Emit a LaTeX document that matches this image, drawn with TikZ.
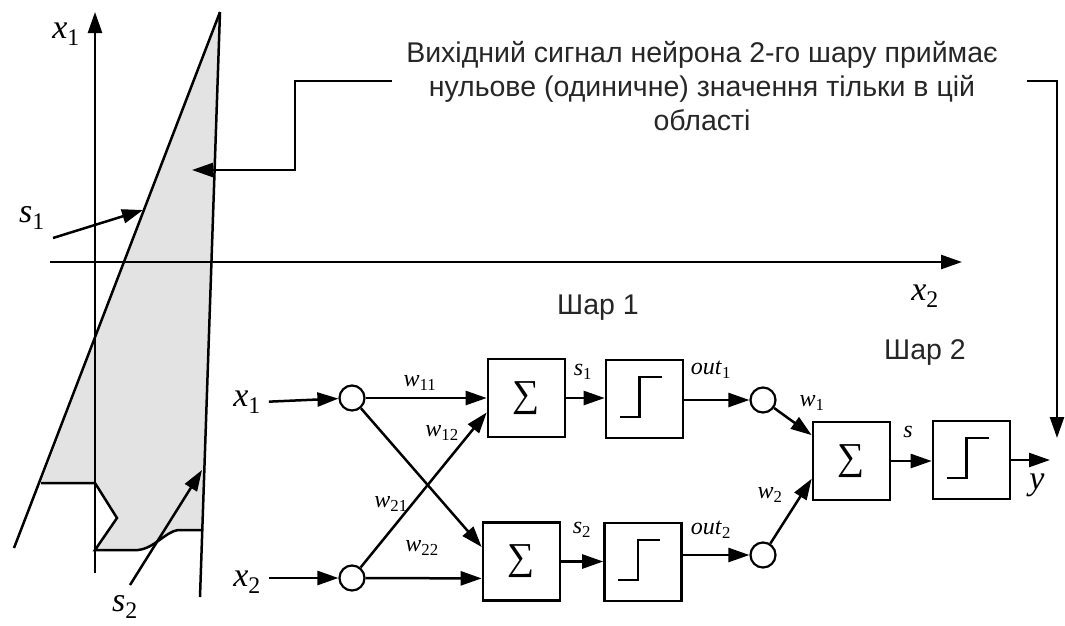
\documentclass[tikz,border=0pt]{standalone}
\usepackage{fontspec}
\setmainfont{Liberation Serif}
\newfontfamily\sansuk{Liberation Sans}
\usetikzlibrary{arrows.meta}
\newcommand\vr[2]{\textit{#1}\textsubscript{#2}}
\begin{document}
\begin{tikzpicture}[x=1pt,y=-1pt,
  ln/.style={line width=2.5pt},
  arr/.style={ln,-{Triangle[length=21pt,width=14pt]}},
  blk/.style={draw,line width=2.6pt,minimum width=77pt,minimum height=78pt,inner sep=0pt},
  nd/.style={draw,circle,line width=2.2pt,minimum size=25pt,inner sep=0pt},
  big/.style={font=\fontsize{34}{34}\selectfont,inner sep=0pt},
  sml/.style={font=\fontsize{24}{24}\selectfont,inner sep=0pt},
  uk/.style={font=\sansuk\fontsize{28.5}{34}\selectfont,align=center,inner sep=0pt,text=black!85},
  sumtxt/.style={font=\fontsize{38}{38}\selectfont}
]
\useasboundingbox (0,0) rectangle (1065,625);
% shaded region
\fill[black!11] (220,12) -- (41,483) -- (95,483) -- (117,518) -- (95,550) -- (138,550)
  .. controls (155,548) and (165,532) .. (178,530) -- (202,530) -- cycle;
\draw[ln] (41,483) -- (95,483) -- (117,518) -- (95,550) -- (138,550)
  .. controls (155,548) and (165,532) .. (178,530) -- (202,530);
\coordinate (top) at (220,12);
\coordinate (slb) at (14,548);
\coordinate (rlb) at (200,597);
\draw[ln] (top) -- (slb);
\draw[ln] (top) -- (rlb);
% axes
\coordinate (ax1b) at (95,573);
\coordinate (ax1t) at (95,12);
\coordinate (ax2l) at (50,262);
\coordinate (ax2r) at (962,262);
\draw[arr] (ax1b) -- (ax1t);
\draw[arr] (ax2l) -- (ax2r);
\node[big] (lax1) at (66,34) {\vr{x}{1}};
\node[big] (lax2) at (925,296) {\vr{x}{2}};
% s1, s2 pointers
\node[big] (ls1) at (32,218) {\vr{s}{1}};
\node[big] (ls2) at (125,607) {\vr{s}{2}};
\coordinate (s1a) at (53,238);
\coordinate (s1b) at (143,210);
\coordinate (s2a) at (130,585);
\coordinate (s2b) at (202,470);
\draw[arr] (s1a) -- (s1b);
\draw[arr] (s2a) -- (s2b);
% caption and callouts
\node[uk] (txt) at (702,86) {Вихідний сигнал нейрона 2-го шару приймає\\нульове (одиничне) значення тільки в цій\\області};
\coordinate (l1) at (392,81);
\coordinate (l2) at (295,81);
\coordinate (l3) at (295,170);
\coordinate (l4) at (192,170);
\draw[arr] (l1) -- (l2) -- (l3) -- (l4);
\coordinate (r1) at (1027,81);
\coordinate (r2) at (1057,81);
\coordinate (r3) at (1057,438);
\draw[arr] (r1) -- (r2) -- (r3);
\node[uk] (sh1) at (598,308) {Шар 1};
\node[uk] (sh2) at (925,352) {Шар 2};
% network
\node[big] (lx1) at (247,402) {\vr{x}{1}};
\node[big] (lx2) at (247,582) {\vr{x}{2}};
\node[nd] (c1) at (352,398) {};
\node[nd] (c2) at (352,578) {};
\node[blk,sumtxt] (S1) at (526.5,398) {∑};
\node[blk,sumtxt] (S2) at (521.5,561.5) {∑};
\node[blk] (F1) at (644.5,399) {};
\node[blk] (F2) at (643,562) {};
\node[nd] (c3) at (763,400) {};
\node[nd] (c4) at (763,555) {};
\node[blk,sumtxt] (S3) at (851.5,461) {∑};
\node[blk] (F3) at (971.5,460) {};
\foreach \f in {F1,F2,F3}
  \draw[ln,shift={(\f.center)}] (-25,18) -- (-5,18) -- (-5,-22) -- (17,-22);
\draw[arr,shorten <=8pt] (lx1.east) -- (c1);
\draw[arr,shorten <=8pt] (lx2.east |- c2) -- (c2);
\draw[arr] (c1) -- (S1);
\draw[arr] (c1) -- (S2.160);
\draw[arr] (c2) -- (S1.200);
\draw[arr] (c2) -- (S2.203);
\draw[arr] (S1.east) -- (S1.east -| F1.west);
\draw[arr] (S2.east) -- (S2.east -| F2.west);
\draw[arr] (F1.east |- c3) -- (c3);
\draw[arr] (F2.east |- c4) -- (c4);
\draw[arr] (c3) -- (S3.147);
\draw[arr] (c4) -- (S3.204);
\draw[arr] (S3.east) -- (S3.east -| F3.west);
\coordinate (yend) at (1050,460);
\draw[arr] (F3.east) -- (yend);
% labels
\node[sml] (w11) at (420,383) {\vr{w}{11}};
\node[sml] (w12) at (442,433) {\vr{w}{12}};
\node[sml] (w21) at (391,504) {\vr{w}{21}};
\node[sml] (w22) at (422,548) {\vr{w}{22}};
\node[sml] (ls1n) at (583,372) {\vr{s}{1}};
\node[sml] (ls2n) at (582,530) {\vr{s}{2}};
\node[sml] (lo1) at (711,370) {\vr{out}{1}};
\node[sml] (lo2) at (711,530) {\vr{out}{2}};
\node[sml] (lw1) at (812,403) {\vr{w}{1}};
\node[sml] (lw2) at (770,495) {\vr{w}{2}};
\node[sml] (ls) at (908,432) {\textit{s}};
\node[big] (ly) at (1037,485) {\textit{y}};
\end{tikzpicture}
\end{document}
